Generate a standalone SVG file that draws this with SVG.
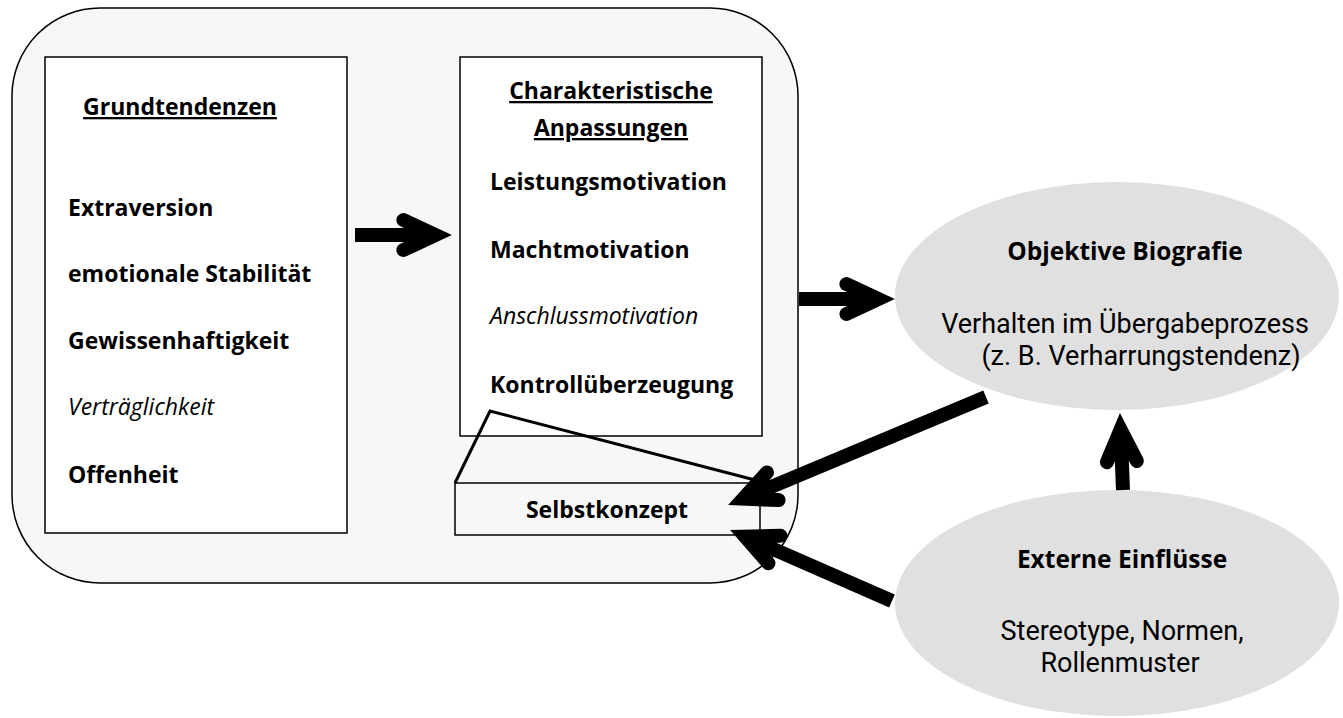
<svg xmlns="http://www.w3.org/2000/svg" width="1343" height="718" viewBox="0 0 1343 718">
<style>
text{font-family:"Open Sans","Noto Sans","Liberation Sans",sans-serif;fill:#000}
.b{font-weight:bold;font-size:23px}
.i{font-style:italic;font-size:23px}
.h{font-weight:bold;font-size:23px;text-decoration:underline}
.eb{font-weight:bold;font-size:24.5px;text-anchor:middle}
.er{font-family:Roboto,"Open Sans",sans-serif;font-size:27px;text-anchor:middle}
.c{text-anchor:middle}
.box{fill:#fff;stroke:#000;stroke-width:1.5}
.ell{fill:#e0e0e0;stroke:none}
.arr{fill:none;stroke:#000;stroke-width:14;stroke-linecap:butt;marker-end:url(#head)}
</style>
<defs>
<marker id="head" markerUnits="userSpaceOnUse" markerWidth="80" markerHeight="80" refX="0" refY="0" orient="auto" overflow="visible" viewBox="-60 -40 80 80">
<path d="M-32,-15 L0,0 L-32,15" fill="none" stroke="#000" stroke-width="14" stroke-linecap="round" stroke-linejoin="miter"/>
</marker>
</defs>
<g id="container">
<rect x="12" y="8" width="786" height="575" rx="88" ry="88" fill="#f7f7f7" stroke="#000" stroke-width="1.5"/>
</g>
<g id="grundtendenzen">
<rect class="box" x="45" y="57" width="302" height="476"/>
<text class="h c" x="180" y="115">Grundtendenzen</text>
<text class="b" x="68" y="216">Extraversion</text>
<text class="b" x="68" y="282">emotionale Stabilität</text>
<text class="b" x="68" y="349">Gewissenhaftigkeit</text>
<text class="i" x="68" y="415">Verträglichkeit</text>
<text class="b" x="68" y="483">Offenheit</text>
</g>
<g id="anpassungen">
<rect class="box" x="460" y="57" width="302" height="379"/>
<text class="h c" x="611" y="99">Charakteristische</text>
<text class="h c" x="611" y="136">Anpassungen</text>
<text class="b" x="490" y="190">Leistungsmotivation</text>
<text class="b" x="490" y="258">Machtmotivation</text>
<text class="i" x="490" y="324">Anschlussmotivation</text>
<text class="b" x="490" y="393">Kontrollüberzeugung</text>
</g>
<g id="selbstkonzept">
<rect x="455" y="483" width="305" height="52" fill="#f7f7f7" stroke="#000" stroke-width="1.5"/>
<polyline points="455,483 490,411 755,480" fill="none" stroke="#000" stroke-width="3" stroke-linejoin="miter"/>
<text class="b c" x="607" y="518">Selbstkonzept</text>
</g>
<g id="biografie">
<ellipse class="ell" cx="1117" cy="296" rx="222" ry="114"/>
<text class="eb" x="1125" y="260">Objektive Biografie</text>
<text class="er" x="1125" y="333">Verhalten im Übergabeprozess</text>
<text class="er" x="1141" y="365">(z. B. Verharrungstendenz)</text>
</g>
<g id="externe">
<ellipse class="ell" cx="1117" cy="603" rx="222" ry="113"/>
<text class="eb" x="1122" y="568">Externe Einflüsse</text>
<text class="er" x="1122" y="640">Stereotype, Normen,</text>
<text class="er" x="1120" y="672">Rollenmuster</text>
</g>
<g id="connectors">
<path class="arr" d="M355,235 L435.4,235"/>
<path class="arr" d="M799,299 L878.4,299"/>
<path class="arr" d="M986,397 L743.3,498.6"/>
<path class="arr" d="M892,601 L745.2,536.7"/>
<path class="arr" d="M1123,490 L1120.6,429.6"/>
</g>
</svg>
